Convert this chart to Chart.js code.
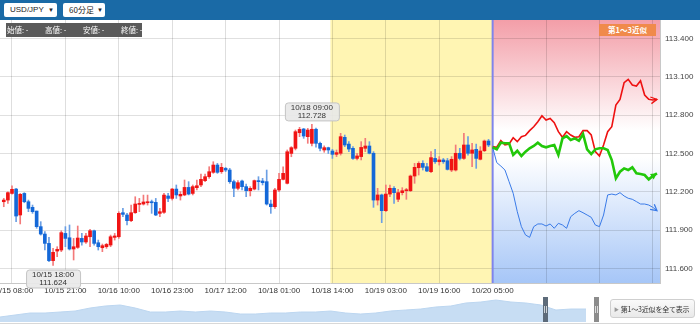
<!DOCTYPE html>
<html>
<head>
<meta charset="utf-8">
<script src="https://cdn.jsdelivr.net/npm/chart.js@4/dist/chart.umd.min.js"></script>
<style>
  html, body { margin:0; padding:0; background:#fff; }
  body { width:700px; height:324px; position:relative; overflow:hidden; font-family:'Liberation Sans', Arial, 'Noto Sans CJK JP', sans-serif; }
  #topbar { position:absolute; left:0; top:0; width:700px; height:20px; background:#1a6aa6; }
  .dd { position:absolute; top:3px; height:14px; background:#fff; border-radius:2px; font-size:8px; line-height:14px; color:#222; }
  .dd .arr { position:absolute; top:0; font-size:6px; }
  #wrap { position:absolute; left:0; top:20px; width:700px; height:276px; }
  #info { position:absolute; left:6px; top:3px; width:136px; height:14px; background:#5a5a5a; color:#fff; font-family:'Noto Sans CJK JP', sans-serif; font-size:7.5px; line-height:14px; white-space:nowrap; }
  #info span { display:inline-block; width:37px; padding-left:1px; }
  #fcLabel { position:absolute; left:599px; top:4px; width:57px; height:12px; background:#f08a4b; color:#fff; font-family:'Noto Sans CJK JP', sans-serif; font-weight:bold; font-size:7.5px; line-height:12px; text-align:center; }
  #nav { position:absolute; left:0; top:296px; width:700px; height:27px; border-bottom:1px solid #d8d8d8; }
  #navCanvas { position:absolute; left:0; top:1px; }
  .handle { position:absolute; top:1px; width:5px; height:25px; }
  .handle::after { content:''; position:absolute; left:1px; top:9px; width:1px; height:7px; border-left:1px solid #fff; border-right:1px solid #fff; opacity:0.7; }
  #showAll { position:absolute; left:610px; top:3px; width:85px; height:19px; box-sizing:border-box; border:1px solid #cfcfcf; border-radius:3px; background:linear-gradient(#fafafa,#e9e9e9); font-family:'Noto Sans CJK JP', sans-serif; font-size:7px; line-height:17px; color:#333; white-space:nowrap; padding-left:3px; letter-spacing:-0.2px; }
  #showAll b { color:#999; font-weight:normal; font-size:5px; margin-right:2px; vertical-align:1px; }
</style>
</head>
<body>
<div id="topbar">
  <div class="dd" style="left:4px;width:53px;"><span style="position:absolute;left:6px;">USD/JPY</span><span class="arr" style="left:44px;">▼</span></div>
  <div class="dd" style="left:63px;width:42px;"><span style="position:absolute;left:6px;font-family:'Noto Sans CJK JP',sans-serif;">60分足</span><span class="arr" style="left:34px;">▼</span></div>
</div>
<div id="wrap">
  <canvas id="mainChart" width="700" height="276"></canvas>
  <div id="info"><span>始値: -</span><span>高値: -</span><span>安値: -</span><span>終値: -</span></div>
  <div id="fcLabel">第1～3近似</div>
</div>
<div id="nav">
  <canvas id="navCanvas" width="586" height="25"></canvas>
  <div class="handle" style="left:543px;background:#5d6b7a;"></div>
  <div class="handle" style="left:594px;background:#8c8c8c;"></div>
  <div id="showAll"><b>▶</b>第1～3近似を全て表示</div>
</div>

<script>
// hourly candles, hour 0 = 10/15 08:00 (first candle is hour -2)
const firstHour = -2;
const candleOpen = [
  112.123,112.136,112.188,112.222,112.019,112.188,112.123,112.079,112.050,111.928,
  111.870,111.797,111.662,111.737,111.745,111.875,111.841,111.753,111.766,111.836,
  111.808,111.849,111.896,111.802,111.763,111.771,111.784,111.844,111.849,112.037,
  112.019,111.975,112.037,112.102,112.105,112.115,112.123,112.118,112.032,112.040,
  112.168,112.149,112.222,112.168,112.176,112.235,112.188,112.233,112.254,112.288,
  112.319,112.353,112.410,112.358,112.384,112.371,112.280,112.228,112.285,112.241,
  112.209,112.222,112.288,112.285,112.280,112.105,112.084,112.215,112.298,112.267,
  112.501,112.541,112.663,112.692,112.632,112.580,112.690,112.580,112.528,112.546,
  112.520,112.494,112.502,112.627,112.574,112.541,112.462,112.476,112.541,112.559,
  112.502,112.136,112.176,112.053,112.183,112.228,112.142,112.194,112.209,112.209,
  112.324,112.389,112.423,112.397,112.358,112.462,112.436,112.450,112.444,112.371,
  112.371,112.502,112.462,112.567,112.502,112.533,112.455,112.522,112.598
];
const candleHigh = [
  112.149,112.201,112.248,112.228,112.188,112.194,112.136,112.097,112.050,111.967,
  111.889,111.844,111.758,111.771,111.896,111.928,111.941,111.836,111.933,111.875,
  111.875,111.907,111.902,111.823,111.792,111.797,111.862,111.875,112.045,112.071,
  112.032,112.097,112.162,112.149,112.175,112.175,112.136,112.149,112.071,112.188,
  112.188,112.228,112.254,112.202,112.293,112.280,112.254,112.293,112.340,112.340,
  112.397,112.436,112.423,112.423,112.392,112.384,112.293,112.288,112.293,112.262,
  112.241,112.293,112.319,112.306,112.371,112.136,112.228,112.345,112.397,112.528,
  112.554,112.684,112.705,112.697,112.697,112.728,112.700,112.590,112.560,112.550,
  112.533,112.528,112.658,112.645,112.593,112.554,112.502,112.593,112.619,112.593,
  112.515,112.228,112.183,112.254,112.254,112.241,112.220,112.233,112.228,112.332,
  112.423,112.436,112.444,112.423,112.515,112.533,112.476,112.462,112.462,112.476,
  112.567,112.541,112.658,112.632,112.580,112.574,112.554,112.606,112.611
];
const candleLow = [
  112.084,112.110,112.183,111.967,111.949,112.115,112.045,112.032,111.915,111.862,
  111.745,111.654,111.624,111.693,111.732,111.771,111.745,111.667,111.758,111.784,
  111.797,111.771,111.784,111.745,111.732,111.758,111.771,111.823,111.836,112.006,
  111.941,111.967,112.032,112.045,112.097,112.097,112.032,112.014,112.006,112.032,
  112.123,112.136,112.149,112.136,112.170,112.176,112.176,112.215,112.241,112.280,
  112.306,112.345,112.345,112.345,112.358,112.267,112.162,112.215,112.215,112.162,
  112.168,112.215,112.215,112.254,112.097,112.032,112.071,112.202,112.293,112.262,
  112.475,112.528,112.632,112.619,112.580,112.560,112.550,112.520,112.510,112.500,
  112.462,112.476,112.488,112.554,112.515,112.455,112.450,112.450,112.515,112.497,
  112.079,112.097,111.959,112.045,112.163,112.110,112.123,112.176,112.142,112.202,
  112.267,112.332,112.371,112.358,112.350,112.423,112.410,112.423,112.371,112.358,
  112.363,112.450,112.455,112.488,112.397,112.384,112.450,112.515,112.554
];
const candleClose = [
  112.136,112.194,112.220,112.011,112.181,112.123,112.071,112.045,111.928,111.870,
  111.797,111.662,111.727,111.750,111.881,111.836,111.753,111.771,111.839,111.808,
  111.855,111.896,111.797,111.771,111.779,111.789,111.849,111.855,112.032,112.024,
  111.975,112.037,112.105,112.110,112.121,112.123,112.115,112.019,112.045,112.175,
  112.149,112.222,112.176,112.181,112.235,112.183,112.241,112.248,112.298,112.319,
  112.358,112.410,112.353,112.392,112.371,112.280,112.228,112.272,112.241,112.209,
  112.228,112.288,112.280,112.272,112.105,112.084,112.215,112.298,112.345,112.514,
  112.546,112.671,112.689,112.637,112.684,112.690,112.580,112.541,112.546,112.528,
  112.494,112.507,112.632,112.567,112.535,112.462,112.481,112.548,112.559,112.502,
  112.136,112.176,112.053,112.183,112.228,112.194,112.194,112.209,112.215,112.324,
  112.392,112.423,112.392,112.363,112.468,112.436,112.450,112.436,112.376,112.455,
  112.502,112.462,112.567,112.502,112.528,112.462,112.520,112.598,112.567
];

// three approximation forecasts, one point per hour from forecastFrom
const forecastFrom = 117;
const approx1 = [
  112.554,112.549,112.601,112.567,112.575,112.624,112.593,112.632,112.642,112.679,
  112.710,112.749,112.796,112.762,112.775,112.742,112.671,112.627,112.671,112.645,
  112.627,112.632,112.679,112.679,112.645,112.515,112.481,112.567,112.671,112.710,
  112.880,112.924,113.054,113.081,113.036,113.028,113.070,112.958,112.924,112.919,112.924
];
const approx2 = [
  112.549,112.533,112.585,112.580,112.580,112.489,112.522,112.481,112.515,112.541,
  112.559,112.585,112.559,112.549,112.559,112.567,112.489,112.619,112.637,112.606,
  112.619,112.601,112.653,112.533,112.496,112.533,112.541,112.541,112.528,112.449,
  112.306,112.358,112.384,112.371,112.392,112.345,112.340,112.332,112.298,112.324,112.345
];
const approx3 = [
  112.549,112.429,112.402,112.371,112.280,112.189,112.045,111.928,111.863,111.844,
  111.928,111.949,111.949,111.933,111.949,111.915,111.954,111.941,111.915,112.006,
  112.032,112.053,112.037,112.019,112.001,111.941,111.928,112.019,112.176,112.183,
  112.176,112.194,112.168,112.150,112.142,112.124,112.105,112.105,112.097,112.079,112.053
];

// pattern window (yellow) start, in hours
const matchFrom = 77.5;

const xTickHours = [0,13,26,39,52,65,78,91,104,117,130,143,156];
const xTickLabels = ['10/15 08:00','10/15 21:00','10/16 10:00','10/16 23:00','10/17 12:00',
  '10/18 01:00','10/18 14:00','10/19 03:00','10/19 16:00','10/20 05:00'];
const yTicks = [111.6,111.9,112.2,112.5,112.8,113.1,113.4];

// navigator history (relative height)
const navHistory = [5,7,9,9,10,11,14,16,17,14,10,10,11,10,11,10,8,8,9,9,
  10,10,11,9,8,9,11,12,13,15,16,19,20,22,20,19,17,12,13,13];

Chart.defaults.font.family = "'Liberation Sans', Arial, sans-serif";
Chart.defaults.font.size = 8;

function hourLabel(h){
  const d = new Date(2018, 9, 15, 8 + h);
  const p = n => String(n).padStart(2,'0');
  return `${p(d.getMonth()+1)}/${p(d.getDate())} ${p(d.getHours())}:00`;
}

const wickData = [], bodyData = [], wickColors = [], bodyColors = [];
candleOpen.forEach((o, i) => {
  const h = firstHour + i, c = candleClose[i];
  const up = c >= o;
  wickData.push({x:h, y:[candleLow[i], candleHigh[i]]});
  bodyData.push({x:h, y:[o, c]});
  wickColors.push(up ? '#f37a7a' : '#6b9fe4');
  bodyColors.push(up ? '#f01414' : '#1468d8');
});
const toLine = arr => arr.map((v,i) => ({x: forecastFrom + i, y: v}));

function roundBox(ctx, x, y, w, h, r){
  ctx.beginPath();
  ctx.moveTo(x+r, y); ctx.lineTo(x+w-r, y); ctx.quadraticCurveTo(x+w, y, x+w, y+r);
  ctx.lineTo(x+w, y+h-r); ctx.quadraticCurveTo(x+w, y+h, x+w-r, y+h);
  ctx.lineTo(x+r, y+h); ctx.quadraticCurveTo(x, y+h, x, y+h-r);
  ctx.lineTo(x, y+r); ctx.quadraticCurveTo(x, y, x+r, y);
  ctx.closePath();
}

function callout(ctx, cx, anchorY, below, l1, l2){
  const w = 54, h = 18;
  const top = below ? anchorY + 4 : anchorY - 4 - h;
  ctx.save();
  ctx.fillStyle = 'rgba(232,232,232,0.92)';
  ctx.strokeStyle = '#c4c4c4';
  ctx.lineWidth = 1;
  roundBox(ctx, cx - w/2 + 0.5, top + 0.5, w, h, 3);
  ctx.fill(); ctx.stroke();
  ctx.fillStyle = '#333';
  ctx.font = "8px 'Liberation Sans', Arial, sans-serif";
  ctx.textAlign = 'center';
  ctx.textBaseline = 'middle';
  ctx.fillText(l1, cx, top + 5.5);
  ctx.fillText(l2, cx, top + 13.5);
  ctx.restore();
}

function arrowHead(ctx, p0, p1, color, filled){
  const a = Math.atan2(p1.y - p0.y, p1.x - p0.x), len = 7;
  ctx.save();
  ctx.strokeStyle = color; ctx.fillStyle = color; ctx.lineWidth = 1.3;
  ctx.beginPath();
  ctx.moveTo(p1.x - len*Math.cos(a - 0.5), p1.y - len*Math.sin(a - 0.5));
  ctx.lineTo(p1.x, p1.y);
  ctx.lineTo(p1.x - len*Math.cos(a + 0.5), p1.y - len*Math.sin(a + 0.5));
  if (filled) { ctx.closePath(); ctx.fill(); } else ctx.stroke();
  ctx.restore();
}

const backdrop = {
  id: 'backdrop',
  beforeDraw(chart){
    const {ctx, chartArea:a, scales:{x}} = chart;
    const x1 = x.getPixelForValue(matchFrom), x2 = x.getPixelForValue(forecastFrom);
    ctx.save();
    ctx.fillStyle = '#fff5b3';
    ctx.fillRect(x1, a.top, x2 - x1, a.bottom - a.top);
    const g = ctx.createLinearGradient(0, a.top, 0, a.bottom);
    g.addColorStop(0, 'rgb(243,158,168)');
    g.addColorStop(0.42, '#ffffff');
    g.addColorStop(0.52, '#ffffff');
    g.addColorStop(1, 'rgb(166,198,247)');
    ctx.fillStyle = g;
    ctx.fillRect(x2, a.top, a.right - x2, a.bottom - a.top);
    ctx.restore();
  },
  beforeDatasetsDraw(chart){
    const {ctx, chartArea:a, scales:{x}} = chart;
    const x2 = x.getPixelForValue(forecastFrom);
    ctx.save();
    ctx.strokeStyle = '#7f84ec';
    ctx.lineWidth = 2;
    ctx.beginPath(); ctx.moveTo(x2, a.top); ctx.lineTo(x2, a.bottom); ctx.stroke();
    ctx.restore();
  },
  afterDatasetsDraw(chart){
    const {ctx, scales:{x, y}} = chart;
    // arrow heads at the end of each approximation
    [[2,'#ee1111',false],[3,'#22c80a',true],[4,'#3a7be8',false]].forEach(([di, col, filled]) => {
      const pts = chart.getDatasetMeta(di).data;
      arrowHead(ctx, pts[pts.length-2], pts[pts.length-1], col, filled);
    });
    // highest / lowest callouts
    const hi = candleHigh.indexOf(Math.max(...candleHigh));
    const lo = candleLow.indexOf(Math.min(...candleLow));
    callout(ctx, x.getPixelForValue(firstHour + hi), y.getPixelForValue(candleHigh[hi]), false,
      hourLabel(firstHour + hi), candleHigh[hi].toFixed(3));
    callout(ctx, x.getPixelForValue(firstHour + lo), y.getPixelForValue(candleLow[lo]), true,
      hourLabel(firstHour + lo), candleLow[lo].toFixed(3));
  }
};

new Chart(document.getElementById('mainChart'), {
  data: {
    datasets: [
      { type:'bar', data:wickData, backgroundColor:wickColors, barThickness:1, grouped:false, order:5 },
      { type:'bar', data:bodyData, backgroundColor:bodyColors, barThickness:3, minBarLength:1, grouped:false, order:4 },
      { type:'line', data:toLine(approx1), borderColor:'#ee1111', borderWidth:1.6, pointRadius:0, tension:0, order:2 },
      { type:'line', data:toLine(approx2), borderColor:'#22c80a', borderWidth:2.6, pointRadius:0, tension:0, order:1 },
      { type:'line', data:toLine(approx3), borderColor:'#3a7be8', borderWidth:1, pointRadius:0, tension:0, order:3 }
    ]
  },
  options: {
    responsive:false, animation:false,
    layout:{ padding:0 },
    plugins:{ legend:{display:false}, tooltip:{enabled:false} },
    scales:{
      x:{
        type:'linear', min:-2.92, max:157.74, offset:false,
        afterBuildTicks: s => { s.ticks = xTickHours.map(v => ({value:v})); },
        afterFit: s => { s.height = 13; s.paddingLeft = 0; s.paddingRight = 0; },
        grid:{ color:'rgba(0,0,0,0.13)', drawTicks:false, offset:false },
        border:{ color:'#c8c8c8' },
        ticks:{ padding:3, maxRotation:0, autoSkip:false, color:'#333',
          callback: (v, i) => xTickLabels[i] ?? '' }
      },
      y:{
        position:'right', min:111.487, max:113.545,
        afterBuildTicks: s => { s.ticks = yTicks.map(v => ({value:v})); },
        afterFit: s => { s.width = 40; s.paddingTop = 0; s.paddingBottom = 0; },
        grid:{ color:'rgba(0,0,0,0.12)', drawTicks:false },
        border:{ color:'#c8c8c8' },
        ticks:{ padding:5, color:'#444', callback: v => v.toFixed(3) }
      }
    }
  },
  plugins:[backdrop]
});

// navigator strip at the bottom
new Chart(document.getElementById('navCanvas'), {
  type:'line',
  data:{ datasets:[{ data: navHistory.map((v,i) => ({x:i, y:v})), fill:'origin',
    backgroundColor:'#c7ddf3', borderColor:'#bcd6f0', borderWidth:1, pointRadius:0, tension:0 }] },
  options:{
    responsive:false, animation:false, layout:{ padding:0 },
    plugins:{ legend:{display:false}, tooltip:{enabled:false} },
    scales:{ x:{ type:'linear', min:0, max:navHistory.length-1, display:false },
             y:{ min:0, max:25, display:false } }
  }
});
</script>
</body>
</html>
